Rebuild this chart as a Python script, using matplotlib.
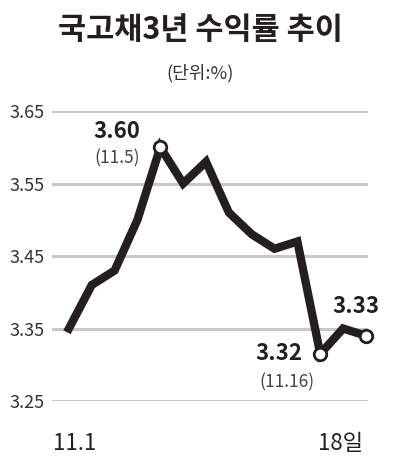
import matplotlib
matplotlib.use("Agg")
from matplotlib import pyplot as plt

plt.rcParams['font.family'] = ['Noto Sans CJK KR', 'DejaVu Sans']

# 국고채 3년 수익률 (%), 11.1 ~ 18일
days = list(range(14))
yields = [3.35, 3.41, 3.43, 3.50, 3.60, 3.55, 3.58, 3.51, 3.48, 3.46, 3.47, 3.315, 3.35, 3.34]
yticks = [3.25, 3.35, 3.45, 3.55, 3.65]
xlabels = ['11.1', '18일']
xlabel_pos = [0.26, 11.9]
marked = [4, 11, 13]

fig = plt.figure(figsize=(4.0, 4.67), dpi=100)
ax = fig.add_axes([0.13, 0.1413, 0.79, 0.621])

for t in yticks:
    ax.axhline(t, color='#c8c8c8', lw=2.2, zorder=1)

ax.plot(days, yields, color='#231f20', lw=6, solid_joinstyle='miter', zorder=3, clip_on=False)
ax.plot([days[i] for i in marked], [yields[i] for i in marked], 'o', ms=9,
        mfc='white', mec='#231f20', mew=2, zorder=4, clip_on=False)

ax.set_xlim(-0.74, 13.09)
ax.set_ylim(3.25, 3.65)
ax.set_yticks(yticks)
ax.set_yticklabels(['%.2f' % t for t in yticks])
ax.tick_params(axis='y', length=0, pad=5, labelsize=13, labelcolor='#333333')
ax.set_xticks([])
for s in ax.spines.values():
    s.set_visible(False)

# 주석
ax.text(3.11, 3.622, '3.60', ha='right', va='center', fontsize=16, fontweight='bold', color='#231f20')
ax.text(3.11, 3.585, '(11.5)', ha='right', va='center', fontsize=12.5, color='#444444')
ax.text(10.2, 3.316, '3.32', ha='right', va='center', fontsize=16, fontweight='bold', color='#231f20')
ax.text(10.77, 3.276, '(11.16)', ha='right', va='center', fontsize=12.5, color='#444444')
ax.text(12.56, 3.380, '3.33', ha='center', va='center', fontsize=16, fontweight='bold', color='#231f20')

for p, lab in zip(xlabel_pos, xlabels):
    ax.text(p, 3.192, lab, ha='center', va='center', fontsize=16, color='#231f20', clip_on=False)

fig.text(0.5, 0.935, '국고채3년 수익률 추이', ha='center', va='center', fontsize=22, fontweight='bold', color='#231f20')
fig.text(0.5, 0.843, '(단위:%)', ha='center', va='center', fontsize=13, color='#333333')

plt.savefig('out.png', dpi=100)
